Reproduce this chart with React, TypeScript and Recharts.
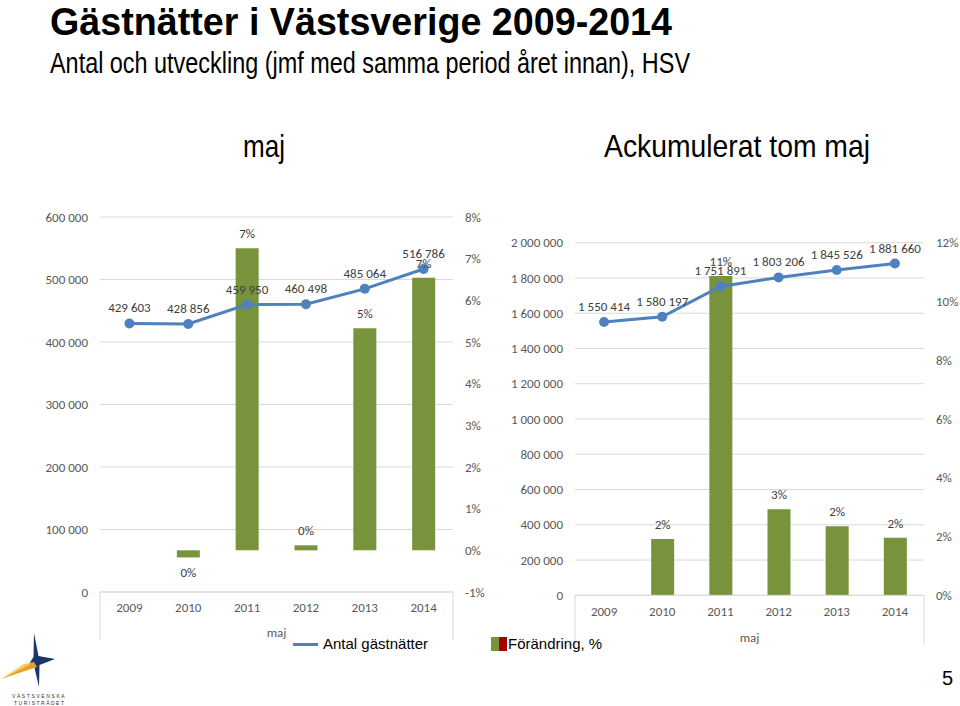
import React from 'react';
import * as R from 'recharts';
import { ComposedChart, Bar, Line, XAxis, YAxis, CartesianGrid, LabelList } from 'recharts';

const years = ['2009', '2010', '2011', '2012', '2013', '2014'];
const majNights = [429603, 428856, 459950, 460498, 485064, 516786];
const majChange: (number | null)[] = [null, -0.17, 7.25, 0.12, 5.33, 6.54];
const accNights = [1550414, 1580197, 1751891, 1803206, 1845526, 1881660];
const accChange: (number | null)[] = [null, 1.92, 10.87, 2.93, 2.35, 1.96];

const majLeftTicks = [0, 100000, 200000, 300000, 400000, 500000, 600000];
const majRightTicks = [-1, 0, 1, 2, 3, 4, 5, 6, 7, 8];
const accLeftTicks = [0, 200000, 400000, 600000, 800000, 1000000, 1200000, 1400000, 1600000, 1800000, 2000000];
const accRightTicks = [0, 2, 4, 6, 8, 10, 12];

const majData = years.map((y, i) => ({ year: y, nights: majNights[i], change: majChange[i] }));
const accData = years.map((y, i) => ({ year: y, nights: accNights[i], change: accChange[i] }));

const GREEN = '#77933C';
const BLUE = '#4F81BD';
const GRID = '#D9D9D9';
const TICK = '#595959';
const LABEL = '#404040';
const AXIS_FONT = 'Carlito, Calibri, Lato, sans-serif';

const fmtNum = (v: any) =>
  v === null || v === undefined ? '' : String(v).replace(/\B(?=(\d{3})+(?!\d))/g, ' ');
const fmtPct = (v: any) => (v === null || v === undefined ? '' : `${Math.round(Number(v))}%`);

type ChartProps = {
  data: any[];
  left: number;
  top: number;
  width: number;
  height: number;
  margin: { top: number; right: number; left: number; bottom: number };
  leftWidth: number;
  rightWidth: number;
  leftTicks: number[];
  rightTicks: number[];
  xHeight: number;
};

function FrameLines(props: any) {
  const { x1, x2, y, len } = props;
  return (
    <g>
      <line x1={x1} x2={x1} y1={y} y2={y + len} stroke={GRID} strokeWidth={1} />
      <line x1={x2} x2={x2} y1={y} y2={y + len} stroke={GRID} strokeWidth={1} />
    </g>
  );
}

const Customized: any = (R as any).Customized;

function ComboChart(p: ChartProps) {
  const tickStyle = { fill: TICK, fontSize: 13, fontFamily: AXIS_FONT };
  const plotLeft = p.margin.left + p.leftWidth;
  const plotRight = p.width - p.margin.right - p.rightWidth;
  const plotBottom = p.height - p.margin.bottom - p.xHeight;
  const frame = <FrameLines x1={plotLeft} x2={plotRight} y={plotBottom} len={p.xHeight} />;
  return (
    <div style={{ position: 'absolute', left: p.left, top: p.top }}>
      <ComposedChart width={p.width} height={p.height} data={p.data} margin={p.margin}>
        <CartesianGrid horizontal vertical={false} stroke={GRID} yAxisId="left" xAxisId="cat" />
        <XAxis
          xAxisId="cat"
          dataKey="year"
          height={p.xHeight}
          axisLine={{ stroke: GRID }}
          tickLine={false}
          tickSize={0}
          tickMargin={11}
          tick={tickStyle}
          label={{ value: 'maj', position: 'insideBottom', offset: 3, fill: TICK, fontSize: 13, fontFamily: AXIS_FONT }}
        />
        <YAxis
          yAxisId="left"
          orientation="left"
          width={p.leftWidth}
          domain={[p.leftTicks[0], p.leftTicks[p.leftTicks.length - 1]]}
          ticks={p.leftTicks}
          axisLine={false}
          tickLine={false}
          tickSize={0}
          tickMargin={12}
          tick={tickStyle}
          tickFormatter={fmtNum}
          allowDataOverflow
        />
        <YAxis
          yAxisId="right"
          orientation="right"
          width={p.rightWidth}
          domain={[p.rightTicks[0], p.rightTicks[p.rightTicks.length - 1]]}
          ticks={p.rightTicks}
          axisLine={false}
          tickLine={false}
          tickSize={0}
          tickMargin={12}
          tick={{ ...tickStyle, textAnchor: 'start' }}
          tickFormatter={fmtPct}
          allowDataOverflow
        />
        <Bar xAxisId="cat" yAxisId="right" dataKey="change" fill={GREEN} barSize={23} isAnimationActive={false}>
          <LabelList
            dataKey="change"
            position="top"
            offset={10}
            formatter={fmtPct}
            style={{ fill: LABEL, fontSize: 13, fontFamily: AXIS_FONT }}
          />
        </Bar>
        <Line
          xAxisId="cat"
          yAxisId="left"
          dataKey="nights"
          stroke={BLUE}
          strokeWidth={3}
          dot={{ r: 5, fill: BLUE, stroke: BLUE, strokeWidth: 0 }}
          activeDot={false}
          isAnimationActive={false}
        >
          <LabelList
            dataKey="nights"
            position="top"
            offset={11}
            formatter={fmtNum}
            style={{ fill: LABEL, fontSize: 13, fontFamily: AXIS_FONT }}
          />
        </Line>
        {Customized ? <Customized component={frame} /> : frame}
      </ComposedChart>
    </div>
  );
}

function Logo() {
  return (
    <g>
      <polygon points="34,633 38.5,656 55,659 39.5,665 39,687 34.5,668 29,664 33.5,657" fill="#1C3668" />
      <polygon points="1,679 34,662 37,667" fill="#E3A12A" />
      <polygon points="1,679 34,662 24,664" fill="#F6C95A" />
      <text x={12} y={698} fontSize={5} letterSpacing={1.6} fill="#333" fontFamily="Liberation Sans, Arial, sans-serif">
        VÄSTSVENSKA
      </text>
      <text x={14} y={705} fontSize={5} letterSpacing={1.5} fill="#333" fontFamily="Liberation Sans, Arial, sans-serif">
        TURISTRÅDET
      </text>
    </g>
  );
}

export default function App() {
  const sans = 'Liberation Sans, Arial, sans-serif';
  return (
    <div
      style={{
        position: 'absolute',
        left: 0,
        top: 0,
        width: 960,
        height: 706,
        background: '#fff',
        overflow: 'hidden',
        fontFamily: AXIS_FONT,
      }}
    >
      <svg width={960} height={706} style={{ position: 'absolute', left: 0, top: 0 }}>
        <text x={50} y={35} fontSize={38} fontWeight="bold" fontFamily={sans} fill="#000" textLength={622} lengthAdjust="spacingAndGlyphs">
          Gästnätter i Västsverige 2009-2014
        </text>
        <text x={50} y={73} fontSize={30} fontFamily={sans} fill="#000" textLength={640} lengthAdjust="spacingAndGlyphs">
          Antal och utveckling (jmf med samma period året innan), HSV
        </text>
        <text x={243} y={157} fontSize={32} fontFamily={sans} fill="#000" textLength={42} lengthAdjust="spacingAndGlyphs">
          maj
        </text>
        <text x={604} y={157} fontSize={32} fontFamily={sans} fill="#000" textLength={266} lengthAdjust="spacingAndGlyphs">
          Ackumulerat tom maj
        </text>
        <text x={942} y={685} fontSize={20} fontFamily={sans} fill="#000">
          5
        </text>
        <Logo />
      </svg>

      <ComboChart
        data={majData}
        left={0}
        top={190}
        width={500}
        height={460}
        margin={{ top: 27, right: 0, left: 0, bottom: 10 }}
        leftWidth={100}
        rightWidth={47}
        leftTicks={majLeftTicks}
        rightTicks={majRightTicks}
        xHeight={48}
      />
      <ComboChart
        data={accData}
        left={480}
        top={190}
        width={480}
        height={460}
        margin={{ top: 52.7, right: 0, left: 0, bottom: 4.7 }}
        leftWidth={95}
        rightWidth={36}
        leftTicks={accLeftTicks}
        rightTicks={accRightTicks}
        xHeight={50}
      />

      {/* Legend */}
      <div style={{ position: 'absolute', left: 293, top: 643, width: 25, height: 3, background: BLUE }} />
      <div style={{ position: 'absolute', left: 323, top: 635, fontFamily: sans, fontSize: 15, color: '#000', whiteSpace: 'nowrap', lineHeight: '18px' }}>
        Antal gästnätter
      </div>
      <div style={{ position: 'absolute', left: 491, top: 637, width: 8, height: 14, background: GREEN }} />
      <div style={{ position: 'absolute', left: 499, top: 637, width: 8, height: 14, background: '#A50000' }} />
      <div style={{ position: 'absolute', left: 508, top: 635, fontFamily: sans, fontSize: 15, color: '#000', whiteSpace: 'nowrap', lineHeight: '18px' }}>
        Förändring, %
      </div>
    </div>
  );
}
